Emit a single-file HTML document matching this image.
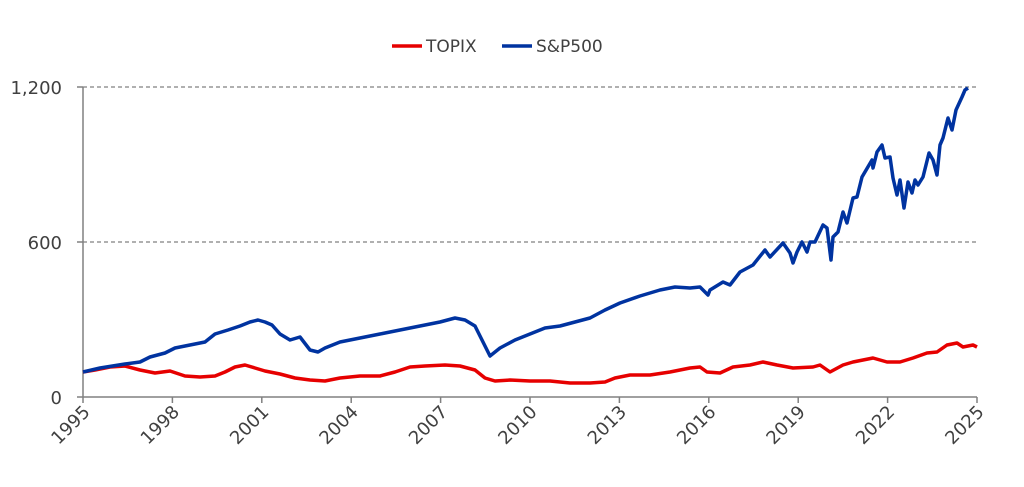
<!DOCTYPE html>
<html><head><style>body{margin:0;background:#fff}svg{display:block;font-family:"DejaVu Sans","Liberation Sans",sans-serif}</style></head>
<body>
<svg width="1024" height="487" viewBox="0 0 1024 487">
<g stroke="#808080" stroke-width="1.2" stroke-dasharray="4,3"><line x1="83" y1="87" x2="977" y2="87"/><line x1="83" y1="242" x2="977" y2="242"/></g>
<g stroke="#808080" stroke-width="1.5"><line x1="83" y1="87" x2="83" y2="397"/><line x1="77" y1="87" x2="83" y2="87"/><line x1="77" y1="242" x2="83" y2="242"/><line x1="77" y1="397" x2="977" y2="397"/>
<line x1="83" y1="397" x2="83" y2="403"/><line x1="172.4" y1="397" x2="172.4" y2="403"/><line x1="261.8" y1="397" x2="261.8" y2="403"/><line x1="351.2" y1="397" x2="351.2" y2="403"/><line x1="440.6" y1="397" x2="440.6" y2="403"/><line x1="530" y1="397" x2="530" y2="403"/><line x1="619.4" y1="397" x2="619.4" y2="403"/><line x1="708.8" y1="397" x2="708.8" y2="403"/><line x1="798.2" y1="397" x2="798.2" y2="403"/><line x1="887.6" y1="397" x2="887.6" y2="403"/><line x1="977" y1="397" x2="977" y2="403"/></g>
<g fill="#404040" font-size="18" text-anchor="end"><text x="62" y="94">1,200</text><text x="62" y="249">600</text><text x="62" y="404">0</text></g>
<g fill="#404040" font-size="18" text-anchor="end">
<text transform="translate(91,413) rotate(-45)">1995</text><text transform="translate(180.4,413) rotate(-45)">1998</text><text transform="translate(269.8,413) rotate(-45)">2001</text><text transform="translate(359.2,413) rotate(-45)">2004</text><text transform="translate(448.6,413) rotate(-45)">2007</text><text transform="translate(538,413) rotate(-45)">2010</text><text transform="translate(627.4,413) rotate(-45)">2013</text><text transform="translate(716.8,413) rotate(-45)">2016</text><text transform="translate(806.2,413) rotate(-45)">2019</text><text transform="translate(895.6,413) rotate(-45)">2022</text><text transform="translate(985,413) rotate(-45)">2025</text></g>
<polyline fill="none" stroke="#e60000" stroke-width="3.5" stroke-linejoin="round" points="83,372 95,370 110,367 125,366 140,370 155,373 170,371 185,376 200,377 215,376 225,372 235,367 245,365 255,368 265,371 280,374 295,378 310,380 325,381 340,378 360,376 380,376 395,372 410,367 425,366 445,365 460,366 475,370 485,378 495,381 510,380 530,381 550,381 570,383 590,383 605,382 615,378 630,375 650,375 670,372 690,368 700,367 707,372 720,373 733,367 750,365 763,362 777,365 793,368 813,367 820,365 830,372 843,365 853,362 873,358 887,362 900,362 913,358 927,353 937,352 947,345 957,343 963,347 973,345 977,347"/>
<polyline fill="none" stroke="#0033a0" stroke-width="3.5" stroke-linejoin="round" points="83,372 100,368 125,364 140,362 150,357 165,353 175,348 185,346 195,344 205,342 215,334 228,330 240,326 250,322 258,320 265,322 272,325 280,334 290,340 300,337 310,350 318,352 325,348 340,342 360,338 380,334 400,330 420,326 440,322 455,318 465,320 475,326 482,340 490,356 500,348 515,340 530,334 545,328 560,326 575,322 590,318 605,310 620,303 640,296 660,290 675,287 690,288 700,287 708,295 710,290 723,282 730,285 740,272 753,265 765,250 770,257 783,243 790,253 793,263 797,252 802,242 807,252 810,242 815,242 823,225 827,228 831,260 833,237 838,232 843,212 847,223 853,198 857,197 862,177 872,160 873,168 877,152 882,145 885,158 890,157 893,178 897,195 900,180 904,208 908,182 912,193 915,180 918,185 923,177 929,153 933,160 937,175 940,145 943,138 948,118 952,130 956,110 962,97 965,90 968,88"/>
<line x1="392" y1="46" x2="422" y2="46" stroke="#e60000" stroke-width="3.5"/>
<text x="426" y="52" fill="#404040" font-size="17">TOPIX</text>
<line x1="502" y1="46" x2="532" y2="46" stroke="#0033a0" stroke-width="3.5"/>
<text x="536" y="52" fill="#404040" font-size="17">S&amp;P500</text>
</svg>
</body></html>
